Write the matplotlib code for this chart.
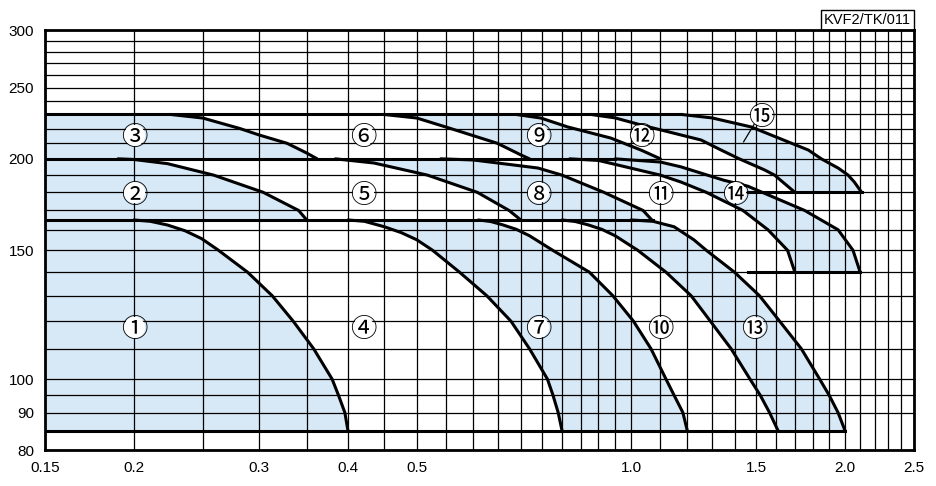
import numpy as np
import matplotlib
matplotlib.use("Agg")
import matplotlib.pyplot as plt
from matplotlib.ticker import NullFormatter

# boundary curves (flow on x, head on y)
# bottom row, 165 -> 85
curve_a_x = [0.20, 0.211, 0.223, 0.236, 0.249, 0.263, 0.289, 0.313, 0.335, 0.358, 0.38, 0.388, 0.396, 0.40]
curve_a_y = [165, 164.3, 162.4, 159.5, 155.6, 150, 140, 130, 120, 110, 100, 95, 90, 85]
curve_b_x = [0.40, 0.422, 0.45, 0.475, 0.50, 0.526, 0.574, 0.627, 0.678, 0.72, 0.763, 0.777, 0.79, 0.80]
curve_b_y = [165, 164.3, 161.5, 158.6, 155, 150, 140, 130, 120, 110, 100, 95, 90, 85]
curve_c_x = [0.61, 0.635, 0.66, 0.69, 0.72, 0.776, 0.874, 0.943, 1.008, 1.067, 1.12, 1.15, 1.183, 1.20]
curve_c_y = [165, 164.2, 162.5, 160.2, 157, 150, 140, 130, 120, 110, 100, 95, 90, 85]
curve_d_x = [0.80, 0.835, 0.87, 0.91, 0.95, 1.022, 1.12, 1.215, 1.293, 1.383, 1.47, 1.52, 1.566, 1.61]
curve_d_y = [165, 164.2, 162.5, 160.2, 157, 150, 140, 130, 120, 110, 100, 95, 90, 85]
curve_e_x = [1.00, 1.074, 1.15, 1.226, 1.276, 1.398, 1.516, 1.618, 1.736, 1.842, 1.90, 1.955, 2.00]
curve_e_y = [165, 164.3, 161.5, 155, 150, 140, 130, 120, 110, 100, 95, 90, 85]

# middle row, 200 -> 165 (right pumps down to 140)
curve_m1_x = [0.19, 0.20, 0.223, 0.259, 0.304, 0.341, 0.35]
curve_m1_y = [200, 199.6, 197, 190, 180, 170, 165]
curve_m2_x = [0.384, 0.435, 0.5175, 0.608, 0.674, 0.70]
curve_m2_y = [200, 197.4, 190, 180, 170, 165]
curve_m3_x = [0.54, 0.60, 0.74, 0.80, 0.916, 1.04, 1.07]
curve_m3_y = [200, 199.3, 194.3, 190, 180, 170, 165]
curve_m4_x = [0.82, 0.90, 1.10, 1.176, 1.276, 1.437, 1.558, 1.66, 1.70]
curve_m4_y = [200, 199, 190, 185.9, 180, 170, 160, 150, 140]
curve_m5_x = [0.95, 1.10, 1.176, 1.35, 1.46, 1.755, 1.955, 2.052, 2.10]
curve_m5_y = [200, 198, 195, 187, 183.5, 170, 160, 150, 140]

# top row, 230 -> 200 (right pumps down to 180)
curve_t1_x = [0.225, 0.25, 0.282, 0.3, 0.3285, 0.35, 0.362]
curve_t1_y = [230, 227.4, 220, 215.6, 210, 203.7, 200]
curve_t2_x = [0.449, 0.50, 0.558, 0.649, 0.70, 0.72]
curve_t2_y = [230, 227.4, 220, 210, 202.5, 200]
curve_t3_x = [0.689, 0.747, 0.815, 0.937, 1.033, 1.10]
curve_t3_y = [230, 227.4, 221.1, 213.5, 205.6, 200]
curve_t4_x = [0.878, 0.95, 1.033, 1.255, 1.339, 1.42, 1.54, 1.592, 1.70]
curve_t4_y = [230, 227.5, 222.5, 212.2, 205.6, 200, 193.2, 190, 180]
curve_t5_x = [1.176, 1.30, 1.476, 1.776, 1.852, 1.957, 2.02, 2.061, 2.11]
curve_t5_y = [230, 227.5, 221.1, 205.6, 200, 194.2, 190, 185.9, 180]

# horizontal boundary lines: head, x from, x to
limit_heads = [230, 200, 180, 165, 140, 85]
limit_from = [0.15, 0.15, 1.46, 0.15, 1.46, 0.15]
limit_to = [1.176, 0.95, 2.11, 1.074, 2.10, 2.00]

zone_labels = ["①", "②", "③", "④", "⑤", "⑥", "⑦", "⑧", "⑨", "⑩", "⑪", "⑫", "⑬", "⑭", "⑮"]
zone_x = [0.2, 0.2, 0.2, 0.42, 0.42, 0.42, 0.74, 0.74, 0.74, 1.1, 1.1, 1.033, 1.49, 1.40, 1.525]
zone_y = [118, 180, 215.6, 118, 180, 215.6, 118, 180, 215.6, 118, 180, 215.6, 118, 180, 229.6]

x_ticks = [0.15, 0.2, 0.3, 0.4, 0.5, 1.0, 1.5, 2.0, 2.5]
x_tick_labels = ["0.15", "0.2", "0.3", "0.4", "0.5", "1.0", "1.5", "2.0", "2.5"]
y_ticks = [80, 90, 100, 150, 200, 250, 300]
x_grid = [0.2, 0.25, 0.3, 0.35, 0.4, 0.45, 0.5, 0.55, 0.6, 0.65, 0.7, 0.75, 0.8, 0.85,
          0.9, 0.95, 1.0, 1.1, 1.2, 1.3, 1.4, 1.5, 1.6, 1.7, 1.8, 1.9, 2.0, 2.1, 2.2, 2.3, 2.4]
y_grid = [90, 95, 100, 110, 120, 130, 140, 150, 160, 170, 180, 190, 200, 210, 220,
          230, 240, 250, 260, 270, 280, 290]

FILL = "#d7e9f7"


def band(ax, lx, ly, rx, ry):
    xs = np.concatenate([lx, rx[::-1]])
    ys = np.concatenate([ly, ry[::-1]])
    ax.fill(xs, ys, color=FILL, lw=0, zorder=1)


def main():
    plt.rcParams["font.family"] = ["Liberation Sans", "DejaVu Sans"]
    fig = plt.figure(figsize=(9.37, 4.86), dpi=100)
    ax = fig.add_axes([45 / 937, 36 / 486, 869 / 937, 420 / 486])
    ax.set_xscale("log")
    ax.set_yscale("log")
    ax.set_xlim(0.15, 2.5)
    ax.set_ylim(80, 300)

    # shaded zones 1-3, 7-9, 13-15
    band(ax, np.array([0.15, 0.15]), np.array([165, 85]), np.array(curve_a_x), np.array(curve_a_y))
    band(ax, np.array([0.15, 0.15]), np.array([200, 165]), np.array(curve_m1_x), np.array(curve_m1_y))
    band(ax, np.array([0.15, 0.15]), np.array([230, 200]), np.array(curve_t1_x), np.array(curve_t1_y))
    band(ax, np.array(curve_b_x), np.array(curve_b_y), np.array(curve_c_x), np.array(curve_c_y))
    band(ax, np.array(curve_m2_x), np.array(curve_m2_y), np.array(curve_m3_x), np.array(curve_m3_y))
    band(ax, np.array(curve_t2_x), np.array(curve_t2_y), np.array(curve_t3_x), np.array(curve_t3_y))
    band(ax, np.array(curve_d_x), np.array(curve_d_y), np.array(curve_e_x), np.array(curve_e_y))
    band(ax, np.array(curve_m4_x), np.array(curve_m4_y), np.array(curve_m5_x), np.array(curve_m5_y))
    band(ax, np.array(curve_t4_x), np.array(curve_t4_y), np.array(curve_t5_x), np.array(curve_t5_y))

    curves = [
        (curve_a_x, curve_a_y), (curve_b_x, curve_b_y), (curve_c_x, curve_c_y),
        (curve_d_x, curve_d_y), (curve_e_x, curve_e_y),
        (curve_m1_x, curve_m1_y), (curve_m2_x, curve_m2_y), (curve_m3_x, curve_m3_y),
        (curve_m4_x, curve_m4_y), (curve_m5_x, curve_m5_y),
        (curve_t1_x, curve_t1_y), (curve_t2_x, curve_t2_y), (curve_t3_x, curve_t3_y),
        (curve_t4_x, curve_t4_y), (curve_t5_x, curve_t5_y),
    ]
    for cx, cy in curves:
        ax.plot(cx, cy, color="black", lw=2.2, solid_capstyle="round",
                solid_joinstyle="round", zorder=3)
    for h, x0, x1 in zip(limit_heads, limit_from, limit_to):
        ax.plot([x0, x1], [h, h], color="black", lw=2.2, zorder=3)

    # grid
    ax.set_xticks(x_ticks, x_tick_labels)
    ax.set_xticks(x_grid, minor=True)
    ax.xaxis.set_minor_formatter(NullFormatter())
    ax.set_yticks(y_ticks, [str(v) for v in y_ticks])
    ax.set_yticks(y_grid, minor=True)
    ax.yaxis.set_minor_formatter(NullFormatter())
    ax.grid(which="both", color="black", lw=0.9)
    ax.tick_params(which="both", length=0, labelsize=11)
    ax.tick_params(axis="x", pad=8)
    ax.tick_params(axis="y", pad=8)
    for sp in ax.spines.values():
        sp.set_linewidth(2.0)
        sp.set_zorder(6)

    # zone numbers
    ax.scatter(zone_x, zone_y, s=230, color="white", lw=0, zorder=4)
    for lab, zx, zy in zip(zone_labels, zone_x, zone_y):
        ax.text(zx, zy, lab, ha="center", va="center_baseline", fontsize=19,
                family=["Noto Sans CJK JP", "DejaVu Sans"], zorder=5)
    ax.plot([1.49, 1.44], [223, 211], color="black", lw=0.9, zorder=3)

    ax.annotate("KVF2/TK/011", xy=(1, 1), xycoords="axes fraction",
                xytext=(-2, 2), textcoords="offset points", ha="right", va="bottom",
                fontsize=10.5,
                bbox=dict(boxstyle="square,pad=0.2", fc="white", ec="black", lw=1))

    fig.savefig("out.png", dpi=100)


if __name__ == "__main__":
    main()
